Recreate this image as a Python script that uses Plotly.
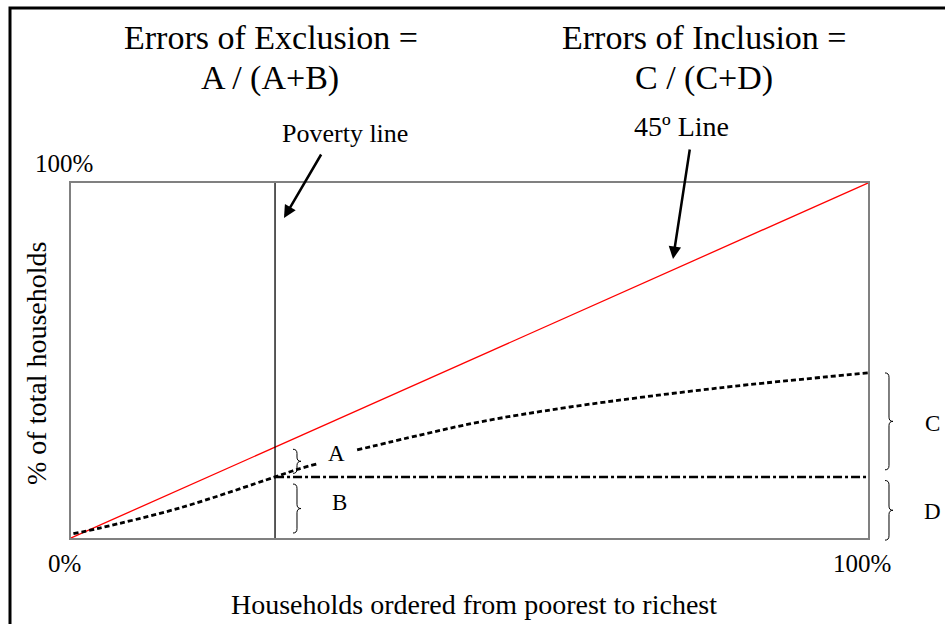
import plotly.graph_objects as go

# ---- data ----
pop_share = [0.003, 0.036, 0.137, 0.256, 0.285, 0.309, None, 0.359, 0.438, 0.513, 0.626, 0.814, 1.0]
benefit_share = [0.012, 0.028, 0.085, 0.172, 0.194, 0.209, None, 0.248, 0.290, 0.327, 0.369, 0.423, 0.465]
diag_x = [0, 1]
diag_y = [0, 1]
poverty_line = 0.256
coverage_level = 0.172
tick_labels = ["0%", "100%"]

W, H = 945, 624
L, R, T, B = 71, 868, 183, 538
FONT = "Liberation Serif, Times New Roman, serif"


def pxx(x):
    return (x - L) / (R - L)


def pxy(y):
    return (B - y) / (B - T)


fig = go.Figure()
fig.add_trace(go.Scatter(x=diag_x, y=diag_y, mode="lines",
                         line=dict(color="#ff0000", width=1.3), hoverinfo="skip"))
fig.add_trace(go.Scatter(x=[poverty_line, poverty_line], y=[0, 1], mode="lines",
                         line=dict(color="black", width=1.3), hoverinfo="skip"))
fig.add_trace(go.Scatter(x=[poverty_line, 1.0], y=[coverage_level, coverage_level], mode="lines",
                         line=dict(color="black", width=2.6, dash="9px,3px,3px,3px"), hoverinfo="skip"))
fig.add_trace(go.Scatter(x=pop_share, y=benefit_share, mode="lines", connectgaps=False,
                         line=dict(color="black", width=2.8, dash="5px,3px", shape="spline"),
                         hoverinfo="skip"))


def brace(x0, yt, yb, w=0.01, r=0.012):
    x1 = x0 + w / 2
    x2 = x0 + w
    ym = (yt + yb) / 2
    return (f"M {x0},{yt} Q {x1},{yt} {x1},{yt - r} L {x1},{ym + r} "
            f"Q {x1},{ym} {x2},{ym} Q {x1},{ym} {x1},{ym - r} "
            f"L {x1},{yb + r} Q {x1},{yb} {x0},{yb}")


shapes = [
    dict(type="rect", xref="paper", yref="paper", x0=pxx(10), x1=pxx(990), y0=pxy(8), y1=pxy(700),
         line=dict(color="black", width=3), layer="above"),
]
for (bx, yt, yb) in [
    (pxx(293), poverty_line - 0.006, coverage_level + 0.01),
    (pxx(293), coverage_level - 0.02, 0.014),
    (pxx(885), benefit_share[-1], coverage_level + 0.02),
    (pxx(885), coverage_level - 0.01, -0.006),
]:
    shapes.append(dict(type="path", xref="paper", yref="paper", path=brace(bx, yt, yb),
                       line=dict(color="black", width=1)))

ann = []


def txt(text, x, y, size, angle=0):
    ann.append(dict(text=text, xref="paper", yref="paper", x=pxx(x), y=pxy(y),
                    xanchor="center", yanchor="middle", showarrow=False, textangle=angle,
                    font=dict(family=FONT, size=size, color="black")))


txt("Errors of Exclusion =", 271, 37, 34)
txt("A / (A+B)", 270, 78, 34)
txt("Errors of Inclusion =", 704, 37, 34)
txt("C / (C+D)", 704, 78, 34)
txt("Poverty line", 345, 133, 26)
txt("45º Line", 681, 126, 28)
txt("A", 336, 453, 23)
txt("B", 339, 502, 23)
txt("C", 932, 423, 23)
txt("D", 932, 511, 23)
txt(tick_labels[1], 64, 163, 25)
txt(tick_labels[0], 64, 563, 25)
txt(tick_labels[1], 862, 563, 25)
txt("Households ordered from poorest to richest", 474, 604, 28)
txt("% of total households", 36, 364, 28, angle=-90)

# arrows
ann.append(dict(x=pxx(284), y=pxy(218), xref="paper", yref="paper", text="", showarrow=True,
                ax=38, ay=-65, arrowhead=2, arrowsize=1, arrowwidth=2.5, arrowcolor="black"))
ann.append(dict(x=pxx(673), y=pxy(259), xref="paper", yref="paper", text="", showarrow=True,
                ax=17, ay=-111, arrowhead=2, arrowsize=1, arrowwidth=2.5, arrowcolor="black"))

axis_common = dict(range=[0, 1], showgrid=False, zeroline=False, showticklabels=False,
                   ticks="", showline=True, mirror=True, linecolor="#808080", linewidth=1.5)
fig.update_layout(
    width=W, height=H,
    margin=dict(l=L, r=W - R, t=T, b=H - B),
    paper_bgcolor="white", plot_bgcolor="white",
    showlegend=False,
    xaxis=axis_common, yaxis=axis_common,
    shapes=shapes, annotations=ann,
)
fig.write_html("out.html", config={"displayModeBar": False},
               post_script="document.body.style.margin='0';document.body.style.overflow='hidden';")
